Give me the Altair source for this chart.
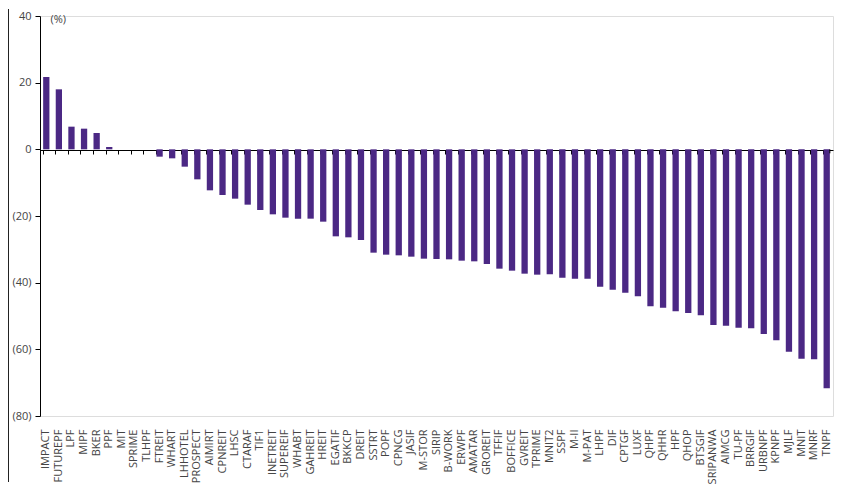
import altair as alt
import pandas as pd

funds = ["IMPACT", "FUTUREPF", "LPF", "MIPF", "BKER", "PPF", "MIT", "SPRIME", "TLHPF",
         "FTREIT", "WHART", "LHHOTEL", "PROSPECT", "AIMIRT", "CPNREIT", "LHSC", "CTARAF",
         "TIF1", "INETREIT", "SUPEREIF", "WHABT", "GAHREIT", "HREIT", "EGATIF", "BKKCP",
         "DREIT", "SSTRT", "POPF", "CPNCG", "JASIF", "M-STOR", "SIRIP", "B-WORK", "ERWPF",
         "AMATAR", "GROREIT", "TFFIF", "BOFFICE", "GVREIT", "TPRIME", "MNIT2", "SSPF",
         "M-II", "M-PAT", "LHPF", "DIF", "CPTGF", "LUXF", "QHPF", "QHHR", "HPF", "QHOP",
         "BTSGIF", "SRIPANWA", "AIMCG", "TU-PF", "BRRGIF", "URBNPF", "KPNPF", "MJLF",
         "MNIT", "MNRF", "TNPF"]
returns = [21.7, 18.0, 6.8, 6.2, 4.9, 0.7, 0.0, 0.0, 0.0,
           -2.2, -2.7, -5.2, -9.0, -12.3, -13.7, -14.8, -16.6,
           -18.2, -19.5, -20.5, -20.8, -20.8, -21.7, -26.1, -26.4,
           -27.2, -31.0, -31.6, -31.8, -32.2, -32.8, -32.9, -33.0, -33.4,
           -33.6, -34.4, -35.8, -36.4, -37.3, -37.6, -37.5, -38.5,
           -38.8, -38.8, -41.2, -42.1, -43.0, -44.1, -47.1, -47.5, -48.6, -49.1,
           -49.8, -52.7, -52.9, -53.5, -53.7, -55.4, -57.3, -60.7,
           -62.8, -63.0, -71.7]
y_ticks = [40, 20, 0, -20, -40, -60, -80]

df = pd.DataFrame({"fund": funds, "ret": returns})

FONT = "Open Sans"
PURPLE = "#4b2884"

x_scale = alt.Scale(paddingInner=0.5, paddingOuter=0.25)
y_scale = alt.Scale(domain=[-80, 40], nice=False, zero=True)

bars = alt.Chart(df).mark_bar(color=PURPLE).encode(
    x=alt.X("fund:N", sort=None, scale=x_scale,
            axis=alt.Axis(title=None, orient="bottom", offset=-266, bandPosition=0,
                          grid=False,
                          domainColor="#000000", tickColor="#000000", tickSize=4,
                          labelAngle=-90, labelPadding=275, labelFontSize=11,
                          labelColor="#444444", labelFont=FONT)),
    y=alt.Y("ret:Q", scale=y_scale,
            axis=alt.Axis(values=y_ticks, grid=False, domainColor="#000000",
                          tickColor="#000000", tickSize=5, labelPadding=4,
                          labelFontSize=11, labelColor="#444444", labelFont=FONT,
                          labelExpr="datum.value < 0 ? '(' + format(-datum.value, 'd') + ')' : format(datum.value, 'd')",
                          title="(%)", titleAngle=0, titleX=10, titleY=3,
                          titleAlign="left", titleBaseline="middle",
                          titleFontSize=11, titleFontWeight="normal",
                          titleColor="#444444", titleFont=FONT)),
)

# closing tick at the right end of the zero line (last band boundary)
end_tick = alt.Chart(df).transform_filter(
    alt.datum.fund == funds[-1]
).mark_rule(color="#000000", strokeWidth=1).encode(
    x=alt.X("fund:N", sort=None, bandPosition=1, scale=x_scale),
    y=alt.datum(0, scale=y_scale),
    y2=alt.datum(-1.2),
)

border = alt.Chart(df).mark_rule(color="#222222", strokeWidth=1).encode(
    x=alt.value(-31.5), y=alt.value(-7), y2=alt.value(466)
)

chart = alt.layer(bars, end_tick, border).properties(
    width=793, height=400,
    padding={"left": 0, "top": 0, "right": 5, "bottom": 0},
).configure_view(stroke="transparent", strokeWidth=0).configure(background="white")

chart.save("out.html", embed_options={"renderer": "svg", "actions": False})
